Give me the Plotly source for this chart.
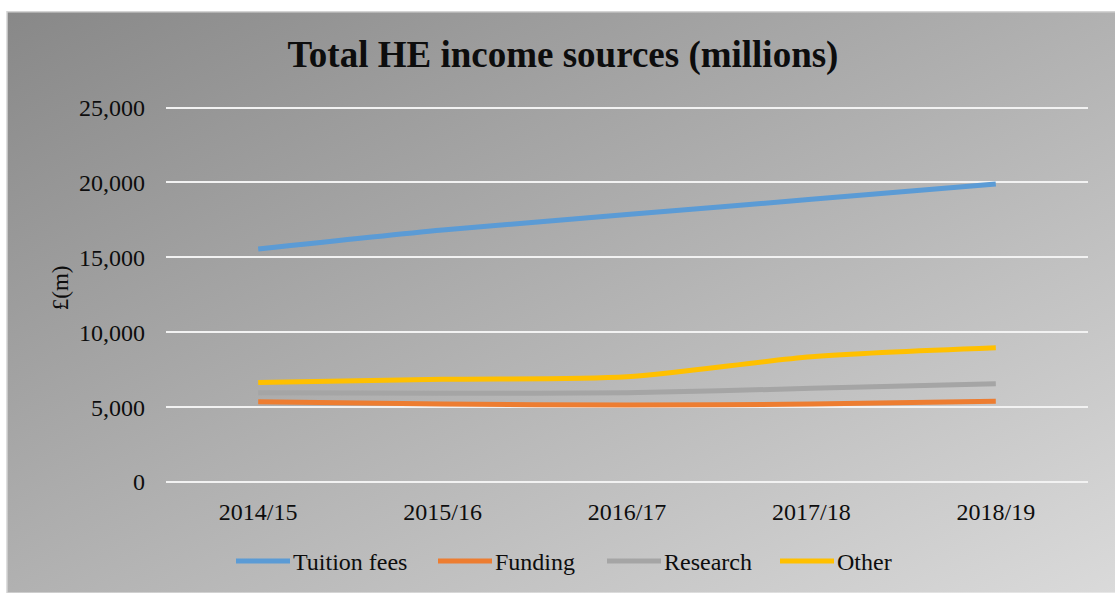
import base64
import plotly.graph_objects as go

# Academic years on the category axis
years = ["2014/15", "2015/16", "2016/17", "2017/18", "2018/19"]

# Income by source, £ millions
tuition_fees = [15550, 16820, 17850, 18870, 19890]
funding = [5360, 5210, 5140, 5200, 5390]
research = [5960, 5920, 5960, 6250, 6560]
other = [6650, 6860, 7030, 8360, 8960]

y_ticks = [0, 5000, 10000, 15000, 20000, 25000]

series_names = ["Tuition fees", "Funding", "Research", "Other"]
series_values = [tuition_fees, funding, research, other]
series_colors = ["#5b9bd5", "#ed7d31", "#a5a5a5", "#ffc000"]

W, H = 1115, 593
Y_TOP = 25100  # a little headroom so the 25,000 gridline is drawn
L, R, B = 166, 27, 111
ph = (H - B - 107) * Y_TOP / 25000
T = H - B - ph
pw = W - L - R

fig = go.Figure()
for name, vals, col in zip(series_names, series_values, series_colors):
    fig.add_trace(go.Scatter(
        x=years, y=vals, name=name, mode="lines", showlegend=False,
        line=dict(color=col, width=5, shape="spline", smoothing=0.8),
    ))


def px_x(v):
    return (v - L) / pw


def px_y(v):
    return (H - B - v) / ph


# Gradient chart-area fill as an inline SVG
fx0, fy0 = 7, 11
fw, fh = W - fx0, H - fy0
svg = (
    f'<svg xmlns="http://www.w3.org/2000/svg" width="{fw}" height="{fh}" '
    f'viewBox="0 0 {fw} {fh}" preserveAspectRatio="none">'
    '<defs><linearGradient id="g" x1="0" y1="0" x2="1" y2="1">'
    '<stop offset="0" stop-color="#888888"/>'
    '<stop offset="1" stop-color="#dadada"/>'
    '</linearGradient></defs>'
    f'<rect width="{fw}" height="{fh}" fill="url(#g)"/></svg>'
)
src = "data:image/svg+xml;base64," + base64.b64encode(svg.encode()).decode()

fig.add_layout_image(dict(
    source=src, xref="paper", yref="paper",
    x=px_x(fx0), y=px_y(fy0), sizex=fw / pw, sizey=fh / ph,
    xanchor="left", yanchor="top", sizing="stretch", layer="below",
))

fig.add_shape(
    type="rect", xref="paper", yref="paper",
    x0=px_x(fx0), x1=px_x(W + 2), y0=px_y(fy0), y1=px_y(H + 2),
    line=dict(color="#d4d4d4", width=1.5), fillcolor="rgba(0,0,0,0)",
    layer="above",
)

font_family = "Liberation Serif, Times New Roman, serif"
text_color = "#0d0d0d"

fig.add_annotation(
    text="£(m)", xref="paper", yref="paper",
    x=px_x(60), y=px_y(288), textangle=-90, showarrow=False,
    font=dict(family=font_family, size=23, color=text_color),
    xanchor="center", yanchor="middle",
)

# Legend row below the axis: a line sample followed by the series name
legend_x = [236, 438, 607, 780]
legend_y = 561
sample_len = 54
for name, col, lx in zip(series_names, series_colors, legend_x):
    fig.add_shape(
        type="line", xref="paper", yref="paper",
        x0=px_x(lx), x1=px_x(lx + sample_len),
        y0=px_y(legend_y), y1=px_y(legend_y),
        line=dict(color=col, width=5),
    )
    fig.add_annotation(
        text=name, xref="paper", yref="paper",
        x=px_x(lx + sample_len + 1), y=px_y(legend_y + 1),
        showarrow=False, xanchor="left", yanchor="middle",
        font=dict(family=font_family, size=24, color=text_color),
    )

fig.update_layout(
    width=W, height=H,
    margin=dict(l=L, r=R, t=T, b=B),
    paper_bgcolor="white",
    plot_bgcolor="rgba(0,0,0,0)",
    font=dict(family=font_family, size=24, color=text_color),
    title=dict(
        text="<b>Total HE income sources (millions)</b>",
        x=563 / W, xref="container", xanchor="center",
        y=1 - 54 / H, yref="container", yanchor="middle",
        font=dict(family=font_family, size=37, color=text_color),
    ),
    xaxis=dict(
        type="category", range=[-0.5, 4.5],
        showgrid=False, zeroline=False, showline=False,
        ticks="", ticklabelstandoff=13,
        tickfont=dict(size=24),
    ),
    yaxis=dict(
        range=[0, Y_TOP], tickvals=y_ticks, tickformat=",d",
        showgrid=True, gridcolor="#f2f2f2", gridwidth=2,
        zeroline=True, zerolinecolor="#f2f2f2", zerolinewidth=2,
        showline=False, ticks="", ticklabelstandoff=20,
        tickfont=dict(size=24),
    ),
    showlegend=False,
)

fig.write_html("out.html")
